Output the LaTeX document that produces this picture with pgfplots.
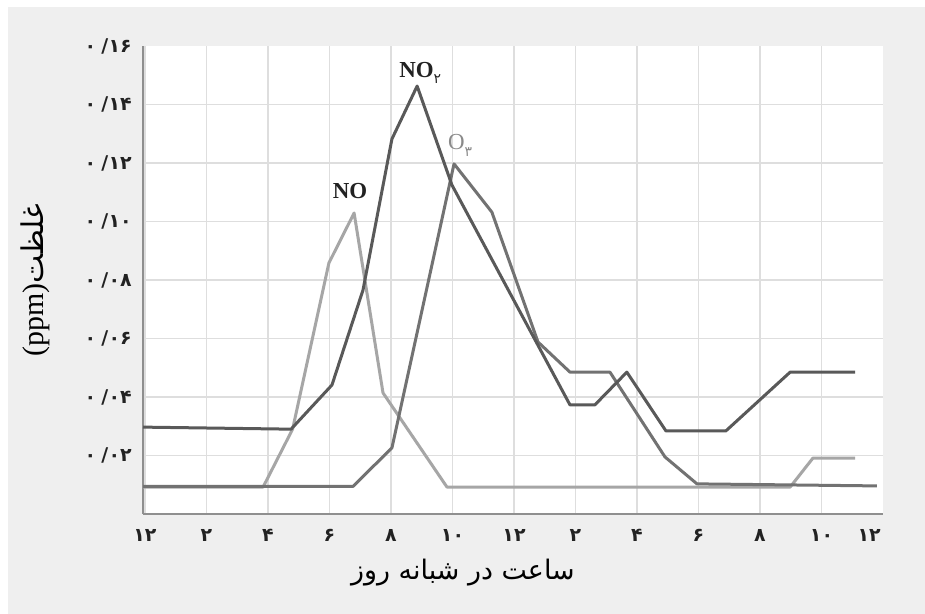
\documentclass[border=0pt]{standalone}
\usepackage{fontspec}
\setmainfont{Liberation Serif}
\newfontfamily\fa[Script=Arabic]{DejaVu Sans}
\TeXXeTstate=1
\usepackage{pgfplots}
\pgfplotsset{compat=1.18}
\definecolor{bg}{HTML}{EFEFEF}
\definecolor{gridc}{HTML}{DEDEDE}
\definecolor{axc}{HTML}{8F8F8F}
\definecolor{cno}{HTML}{A6A6A6}
\definecolor{cothree}{HTML}{727272}
\definecolor{cnotwo}{HTML}{595959}
\definecolor{labg}{HTML}{8A8A8A}
\definecolor{tickc}{HTML}{222222}
\newcommand{\yl}[1]{۰\hspace{5bp}/\kern0.5bp\relax #1}

\begin{document}
\begin{tikzpicture}[x=1bp,y=1bp]
\useasboundingbox (0,0) rectangle (925,614);
\fill[white] (0,0) rectangle (925,614);
\fill[bg] (8,0) rectangle (925,607);
\node[rotate=90, font=\fontsize{30}{34}\selectfont, inner sep=0pt] at (35,334) {(ppm){\fa\beginR غلظت\endR}};
\node[font=\fa\fontsize{27}{30}\selectfont, inner sep=0pt] at (463,41) {\beginR ساعت در شبانه روز\endR};
\begin{axis}[
  at={(143bp,100bp)}, anchor=south west,
  scale only axis, width=740bp, height=468bp,
  xmin=-0.065, xmax=24, ymin=0, ymax=0.16,
  axis x line*=bottom, axis y line*=left,
  axis line style={axc, line width=1.5bp, -},
  axis background/.style={fill=white},
  grid=major, grid style={gridc, line width=1.3bp},
  major tick length=0pt,
  xtick={0,2,4,6,8,10,12,14,16,18,20,22},
  xticklabels={۱۲,۲,۴,۶,۸,۱۰,۱۲,۲,۴,۶,۸,۱۰},
  extra x ticks={23.55}, extra x tick labels={۱۲},
  extra x tick style={grid=none},
  ytick={0.02,0.04,0.06,0.08,0.10,0.12,0.14},
  yticklabels={\yl{۰۲},\yl{۰۴},\yl{۰۶},\yl{۰۸},\yl{۱۰},\yl{۱۲},\yl{۱۴}},
  extra y ticks={0.16}, extra y tick labels={\yl{۱۶}},
  extra y tick style={grid=none},
  xticklabel style={font=\fa\bfseries\fontsize{19}{21}\selectfont, text=tickc, inner sep=0pt, anchor=north, yshift=-15bp},
  yticklabel style={font=\fa\bfseries\fontsize{19}{21}\selectfont, text=tickc, inner sep=0pt, anchor=east, xshift=-11bp},
  clip=false,
]
\addplot[cno, line width=3bp, line join=round] coordinates {
(-0.065,0.0092) (3.84,0.0092) (4.8,0.029) (5.98,0.0858) (6.8,0.1029)
(7.74,0.0414) (9.82,0.0092) (20.98,0.0092) (21.72,0.0191) (23.09,0.0191)};
\addplot[cothree, line width=3bp, line join=round] coordinates {
(-0.065,0.0094) (6.76,0.0094) (8.03,0.0226) (10.05,0.1197) (11.28,0.1032)
(12.78,0.0588) (13.82,0.0485) (15.12,0.0485) (16.91,0.0195) (17.95,0.0103)
(23.8,0.0096)};
\addplot[cnotwo, line width=3bp, line join=round] coordinates {
(-0.065,0.0297) (4.75,0.029) (6.08,0.0441) (7.09,0.0766) (8.03,0.1282)
(8.85,0.1463) (9.98,0.1125) (13.82,0.0373) (14.63,0.0373) (15.67,0.0485)
(16.94,0.0284) (18.89,0.0284) (20.98,0.0485) (23.09,0.0485)};
\node[font=\bfseries\fontsize{23}{25}\selectfont, text=tickc] at (axis cs:6.67,0.1104) {NO};
\node[font=\bfseries\fontsize{23}{25}\selectfont, text=tickc] at (axis cs:8.95,0.1508) {NO\raisebox{-0.3em}{\fa\mdseries\fontsize{14}{15}\selectfont ۲}};
\node[font=\fontsize{23}{25}\selectfont, text=labg] at (axis cs:10.25,0.126) {O\raisebox{-0.3em}{\fa\fontsize{14}{15}\selectfont ۳}};
\end{axis}
\end{tikzpicture}
\end{document}
